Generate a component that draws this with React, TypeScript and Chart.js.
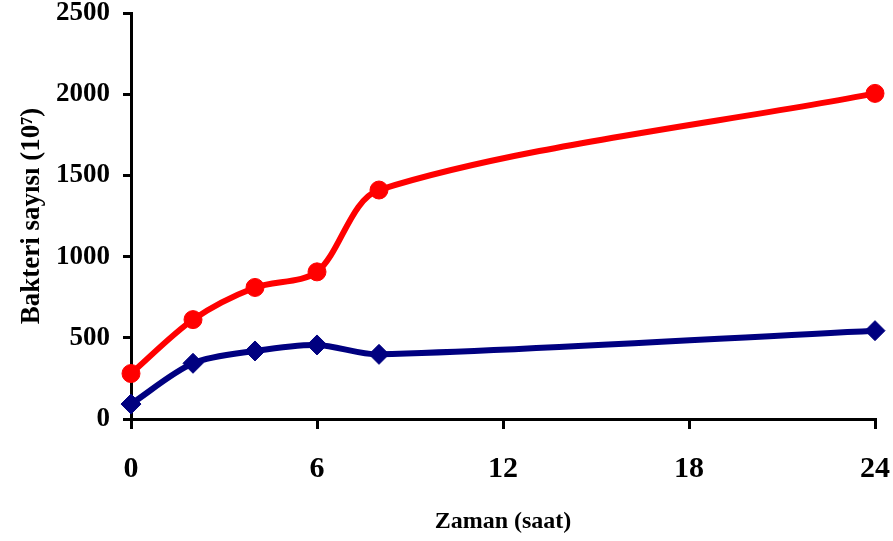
import React, { useEffect, useRef } from 'react';
import { Chart, registerables } from 'chart.js';

Chart.register(...registerables);

// Time (hours)
const hours = [0, 2, 4, 6, 8, 24];
// Red series with circle markers
const seriesRed = [280, 612, 810, 906, 1410, 2005];
// Navy series with diamond markers
const seriesBlue = [92, 343, 419, 456, 398, 544];
// Tick values
const xTickValues = [0, 6, 12, 18, 24];
const yTickValues = [0, 500, 1000, 1500, 2000, 2500];

const xTitle = 'Zaman (saat)';
const yTitle = 'Bakteri sayısı (10⁷)';

const FONT = "'Liberation Serif', 'Times New Roman', 'DejaVu Serif', serif";

export default function App() {
  const canvasRef = useRef<HTMLCanvasElement | null>(null);

  useEffect(() => {
    const canvas = canvasRef.current;
    if (!canvas) return;
    const chart = new Chart(canvas, {
      type: 'line',
      data: {
        datasets: [
          {
            data: hours.map((h, i) => ({ x: h, y: seriesRed[i] })),
            borderColor: '#FF0000',
            backgroundColor: '#FF0000',
            borderWidth: 6,
            pointStyle: 'circle',
            pointRadius: 9,
            pointBorderWidth: 1,
            pointBackgroundColor: '#FF0000',
            pointBorderColor: '#FF0000',
            tension: 0.3,
            clip: false,
            fill: false,
          },
          {
            data: hours.map((h, i) => ({ x: h, y: seriesBlue[i] })),
            borderColor: '#000080',
            backgroundColor: '#000080',
            borderWidth: 6,
            pointStyle: 'rectRot',
            pointRadius: 10,
            pointBorderWidth: 1,
            pointBackgroundColor: '#000080',
            pointBorderColor: '#000080',
            tension: 0.3,
            clip: false,
            fill: false,
          },
        ],
      },
      options: {
        animation: false,
        responsive: false,
        maintainAspectRatio: false,
        layout: { padding: { top: 0, right: 0, left: 0, bottom: 0 } },
        plugins: {
          legend: { display: false },
          tooltip: { enabled: false },
        },
        scales: {
          x: {
            type: 'linear',
            min: 0,
            max: 24,
            afterBuildTicks: (s: any) => {
              s.ticks = xTickValues.map((v) => ({ value: v }));
            },
            afterFit: (s: any) => {
              s.height = 122;
              s.paddingLeft = 0;
              s.paddingRight = 18;
            },
            border: { display: true, color: '#000', width: 3 },
            grid: {
              display: true,
              drawOnChartArea: false,
              drawTicks: true,
              tickLength: 10,
              tickWidth: 3,
              tickColor: '#000',
              color: '#000',
              lineWidth: 3,
            },
            ticks: {
              color: '#000',
              padding: 22,
              maxRotation: 0,
              callback: (v: any) => String(v),
              font: { family: FONT, size: 30, weight: 'bold' },
            },
            title: {
              display: true,
              text: xTitle,
              color: '#000',
              padding: { top: 0, bottom: 5 },
              font: { family: FONT, size: 24, weight: 'bold' },
            },
          },
          y: {
            type: 'linear',
            min: 0,
            max: 2500,
            afterBuildTicks: (s: any) => {
              s.ticks = yTickValues.map((v) => ({ value: v }));
            },
            afterFit: (s: any) => {
              s.width = 131;
              s.paddingTop = 13;
              s.paddingBottom = 0;
            },
            border: { display: true, color: '#000', width: 3 },
            grid: {
              display: true,
              drawOnChartArea: false,
              drawTicks: true,
              tickLength: 8,
              tickWidth: 3,
              tickColor: '#000',
              color: '#000',
              lineWidth: 3,
            },
            ticks: {
              color: '#000',
              padding: 13,
              callback: (v: any) => String(v),
              font: { family: FONT, size: 27, weight: 'bold' },
            },
            title: {
              display: true,
              text: yTitle,
              color: '#000',
              padding: { top: 16, bottom: 0 },
              font: { family: FONT, size: 27, weight: 'bold' },
            },
          },
        },
      },
    });
    return () => chart.destroy();
  }, []);

  return (
    <div style={{ position: 'absolute', left: 0, top: 0, width: 893, height: 541, background: '#fff' }}>
      <canvas ref={canvasRef} width={893} height={541} />
    </div>
  );
}
